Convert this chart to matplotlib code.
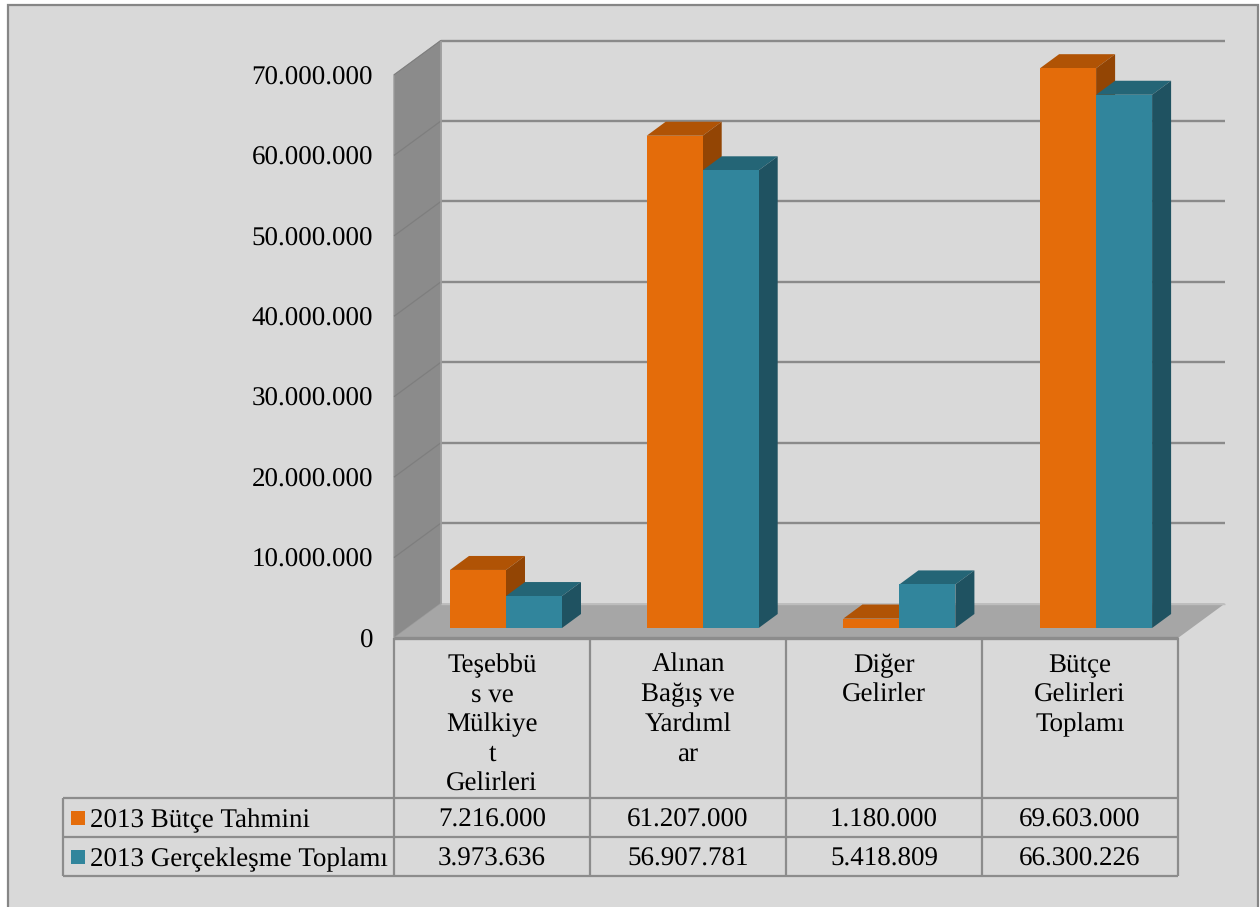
import matplotlib
matplotlib.use("Agg")
import matplotlib.pyplot as plt
from matplotlib.patches import Polygon, Rectangle

plt.rcParams['font.family'] = ['Liberation Serif', 'DejaVu Serif']
plt.rcParams['text.hinting'] = 'no_hinting'
plt.rcParams['text.hinting_factor'] = 1

categories = ["Teşebbü\ns ve\nMülkiye\nt\nGelirleri", "Alınan\nBağış ve\nYardıml\nar",
              "Diğer\nGelirler", "Bütçe\nGelirleri\nToplamı"]
series_names = ["2013 Bütçe Tahmini", "2013 Gerçekleşme Toplamı"]
budget = [7216000, 61207000, 1180000, 69603000]
actual = [3973636, 56907781, 5418809, 66300226]
budget_labels = ["7.216.000", "61.207.000", "1.180.000", "69.603.000"]
actual_labels = ["3.973.636", "56.907.781", "5.418.809", "66.300.226"]
yticks = [0, 10000000, 20000000, 30000000, 40000000, 50000000, 60000000, 70000000]
ytick_labels = ["0", "10.000.000", "20.000.000", "30.000.000", "40.000.000",
                "50.000.000", "60.000.000", "70.000.000"]

W, H = 1260, 907
BG = "#D9D9D9"
ORANGE = ("#E46C0A", "#B05305", "#934504")
TEAL = ("#31859C", "#246576", "#1F5261")
EDGE = "#8C8C8C"
FS = 19.3

fig = plt.figure(figsize=(W / 100, H / 100), dpi=100, facecolor="white")
L, R, T, B = 394, 1178, 75, 638
ax = fig.add_axes([L / W, 1 - B / H, (R - L) / W, (B - T) / H])
ax.set_xlim(0, 4)
ax.set_ylim(0, 70000000)
ax.patch.set_visible(False)
for s in ax.spines.values():
    s.set_visible(False)

px = 4 / (R - L)          # data units per pixel, x
py = 70000000 / (B - T)   # data units per pixel, y
DX, DY = 47 * px, 34.5 * py   # wall depth


def poly(pts, color, z, ec=None, lw=0):
    ax.add_patch(Polygon(pts, closed=True, fc=color, ec=ec or color, lw=lw, zorder=z, clip_on=False))


def line(xs, ys, color=EDGE, lw=2, z=2):
    ax.plot(xs, ys, color=color, lw=lw, zorder=z, clip_on=False, solid_capstyle="butt")


# chart-area background and outer border
fig.patches.append(Rectangle((8 / W, -0.01), (1258 - 8) / W, (H - 5) / H + 0.01, transform=fig.transFigure,
                             fc=BG, ec="#868686", lw=1.6, zorder=-20))

# walls, floor
poly([(0, 0), (DX, DY), (DX, 70000000 + DY), (0, 70000000)], "#8B8B8B", 1, "#9A9A9A", 1)
poly([(0, 0), (DX, DY), (4 + DX, DY), (4, 0)], "#A6A6A6", 1)
for v in yticks[1:]:
    line([DX, 4 + DX], [v + DY, v + DY], "#8A8A8A", 1.7, 1.5)
    line([0, DX], [v, v + DY], "#7E7E7E", 0.9, 1.5)
line([DX, DX], [DY, 70000000 + DY], "#A0A0A0", 1.2, 1.6)
line([DX, 4 + DX], [DY, DY], "#BDBDBD", 1.0, 1.5)
line([0, 4], [0, 0], "#8C8C8C", 2.4, 3)

# 3-D bars
bw = 56 * px
off_x = 14 * px
step = 196.7 * px
base = 10 * py
dx, dy = 19 * px, 14 * py
z = 5
for i in range(4):
    for j, (vals, cols) in enumerate(((budget, ORANGE), (actual, TEAL))):
        x0 = 0.5 + i * step + off_x + (j - 1) * bw
        v = vals[i]
        ax.bar(x0, v, width=bw, bottom=base, align="edge", color=cols[0], zorder=z + 2, clip_on=False)
        top = base + v
        poly([(x0, top), (x0 + bw, top), (x0 + bw + dx, top + dy), (x0 + dx, top + dy)], cols[1], z)
        poly([(x0 + bw, base), (x0 + bw + dx, base + dy), (x0 + bw + dx, top + dy), (x0 + bw, top)], cols[2], z)
        z += 3

# axis ticks
ax.set_yticks(yticks, ytick_labels, fontsize=FS, color="black")
ax.tick_params(axis="y", length=0, pad=15)
ax.set_xticks([i + 0.5 for i in range(4)], categories, fontsize=FS, color="black", linespacing=1.275, va="top")
ax.tick_params(axis="x", length=0, pad=11)

# data table
row_h = 39 * py
table_top = -160 * py
bottom_y = table_top - 2 * row_h
for x in range(5):
    line([x, x], [0, bottom_y], "#8C8C8C", 1.6, 3)
leg_x = -331 * px
for k in range(3):
    line([leg_x, 4], [table_top - k * row_h] * 2, "#8C8C8C", 1.6, 3)
line([leg_x, leg_x], [table_top, bottom_y], "#8C8C8C", 1.6, 3)
for k, (name, labels, cols) in enumerate(((series_names[0], budget_labels, ORANGE),
                                          (series_names[1], actual_labels, TEAL))):
    yc = table_top - (k + 0.5) * row_h
    for i, t in enumerate(labels):
        ax.text(i + 0.5, yc, t, ha="center", va="center_baseline", fontsize=FS, color="black", zorder=40)
    ax.text(-304 * px, yc, name, ha="left", va="center_baseline", fontsize=FS, color="black", zorder=40)
    ax.add_patch(Rectangle((-323 * px, yc - 7 * py), 14 * px, 14 * py, fc=cols[0], ec="none",
                           clip_on=False, zorder=40))

fig.savefig("out.png", dpi=100, facecolor="white")
